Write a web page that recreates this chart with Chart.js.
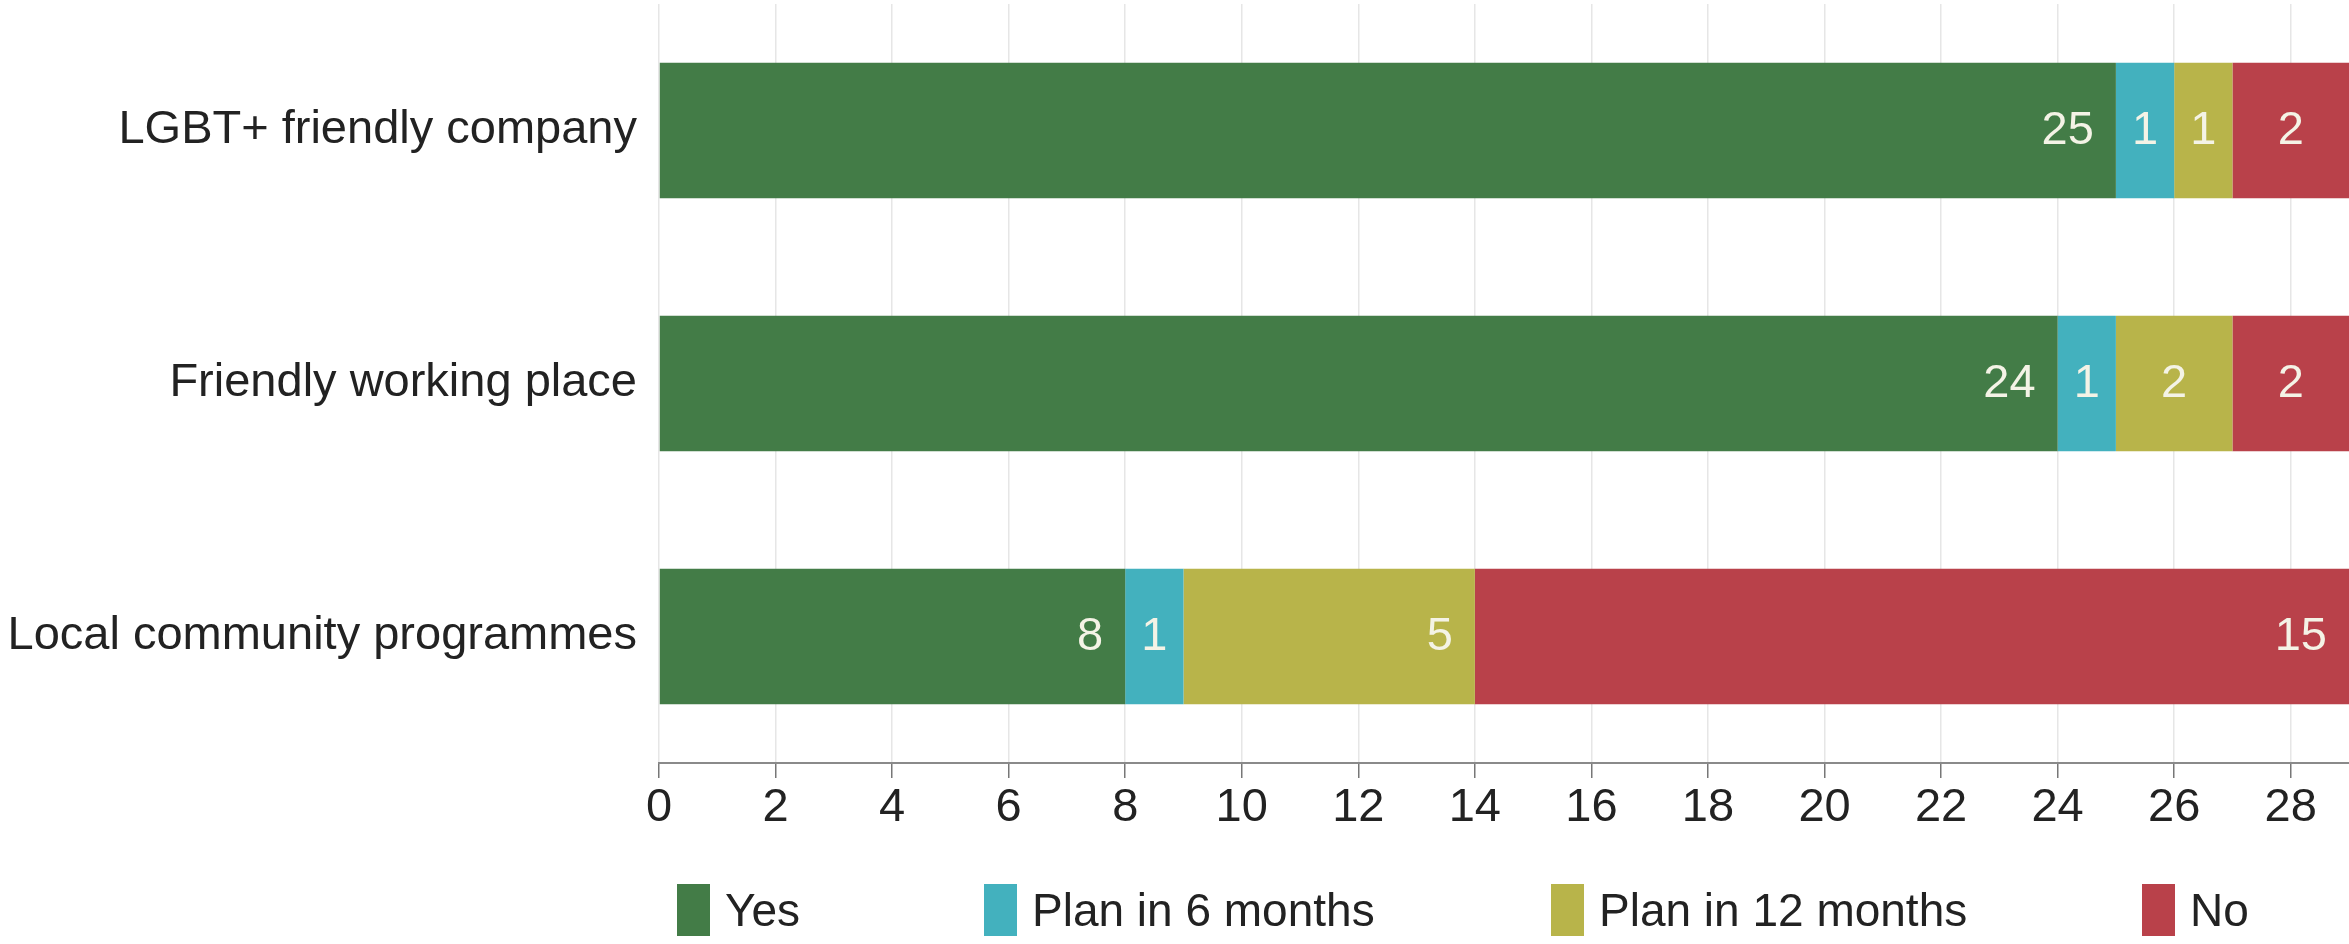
<!DOCTYPE html>
<html>
<head>
<meta charset="utf-8">
<script src="https://cdn.jsdelivr.net/npm/chart.js@4/dist/chart.umd.min.js"></script>
<style>
    html, body { margin: 0; padding: 0; background: #fff; }
    #wrap { position: relative; width: 2349px; height: 944px; }
    #legend { position: absolute; left: 0; top: 884px; height: 52px; width: 2349px;
              font-family: "Liberation Sans", Arial, sans-serif; font-size: 46px; color: #222; }
    .item { position: absolute; top: 0; height: 52px; display: flex; align-items: center; }
    .box { width: 33px; height: 52px; margin-right: 15px; }
</style>
</head>
<body>
<div id="wrap">
    <canvas id="chart" width="2349" height="944"></canvas>
    <div id="legend"></div>
</div>
<script>
const categories = ['LGBT+ friendly company', 'Friendly working place', 'Local community programmes'];
const yesValues = [25, 24, 8];
const plan6Values = [1, 1, 1];
const plan12Values = [1, 2, 5];
const noValues = [2, 2, 15];
const seriesNames = ['Yes', 'Plan in 6 months', 'Plan in 12 months', 'No'];
const seriesColors = ['#437c47', '#43b1be', '#b8b44a', '#b9414a'];
const xTicks = [0, 2, 4, 6, 8, 10, 12, 14, 16, 18, 20, 22, 24, 26, 28];
const legendLeft = [677, 984, 1551, 2142];

const FONT = '"Liberation Sans", Arial, sans-serif';

// value labels inside each segment: right-aligned, or centred when the segment is narrow
const segmentLabels = {
    id: 'segmentLabels',
    afterDatasetsDraw(chart) {
        const ctx = chart.ctx;
        ctx.save();
        ctx.font = '47px ' + FONT;
        ctx.fillStyle = '#f4f3e6';
        ctx.textBaseline = 'middle';
        chart.data.datasets.forEach((ds, i) => {
            chart.getDatasetMeta(i).data.forEach((bar, j) => {
                const v = ds.data[j];
                if (!v) return;
                const w = bar.x - bar.base;
                if (w < 150) {
                    ctx.textAlign = 'center';
                    ctx.fillText(String(v), (bar.x + bar.base) / 2, bar.y + 1);
                } else {
                    ctx.textAlign = 'right';
                    ctx.fillText(String(v), bar.x - 22, bar.y + 1);
                }
            });
        });
        ctx.restore();
    }
};

const valueLists = [yesValues, plan6Values, plan12Values, noValues];

new Chart(document.getElementById('chart'), {
    type: 'bar',
    data: {
        labels: categories,
        datasets: seriesNames.map((name, i) => ({
            label: name,
            data: valueLists[i],
            backgroundColor: seriesColors[i],
            borderWidth: 0,
            barPercentage: 0.535,
            categoryPercentage: 1
        }))
    },
    options: {
        indexAxis: 'y',
        responsive: false,
        animation: false,
        layout: { padding: { top: 4, right: 0, left: 0, bottom: 0 } },
        plugins: {
            legend: { display: false },
            tooltip: { enabled: false }
        },
        scales: {
            x: {
                stacked: true,
                min: 0,
                max: 29,
                afterBuildTicks(axis) {
                    axis.ticks = xTicks.map(v => ({ value: v }));
                },
                afterFit(axis) {
                    axis.height = 181;
                    axis.paddingLeft = 0;
                    axis.paddingRight = 0;
                },
                grid: { color: '#e6e6e6', lineWidth: 1.5, tickColor: '#777', tickLength: 15 },
                border: { color: '#8a8a8a', width: 2 },
                ticks: { color: '#222', font: { family: FONT, size: 47 }, padding: 2, maxRotation: 0 }
            },
            y: {
                stacked: true,
                afterFit(axis) {
                    axis.width = 659;
                    axis.paddingTop = 0;
                    axis.paddingBottom = 0;
                },
                grid: { display: false, drawTicks: false },
                border: { display: false },
                ticks: { color: '#222', font: { family: FONT, size: 47 }, padding: 22 }
            }
        }
    },
    plugins: [segmentLabels]
});

// legend
const legend = document.getElementById('legend');
seriesNames.forEach((name, i) => {
    const item = document.createElement('div');
    item.className = 'item';
    item.style.left = legendLeft[i] + 'px';
    const box = document.createElement('div');
    box.className = 'box';
    box.style.background = seriesColors[i];
    const label = document.createElement('span');
    label.textContent = name;
    item.appendChild(box);
    item.appendChild(label);
    legend.appendChild(item);
});
</script>
</body>
</html>
